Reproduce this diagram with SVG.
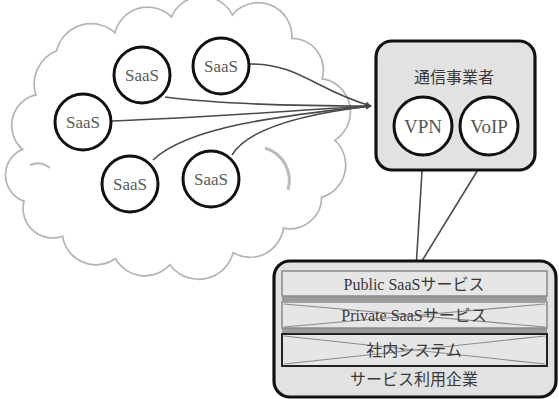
<svg xmlns="http://www.w3.org/2000/svg" width="559" height="399" viewBox="0 0 559 399">
  <defs>
    <style>
      .cloud-outer { fill: none; stroke: #b4b4b4; stroke-width: 5; stroke-linejoin: round; }
      .cloud-inner { fill: #ffffff; stroke: #ffffff; stroke-width: 1.6; stroke-linejoin: round; }
      .saas { fill: #ffffff; stroke: #111111; stroke-width: 3; }
      .saas-label { font-family: "Liberation Serif", "DejaVu Serif", serif; font-size: 17px; fill: #5a5a5a; text-anchor: middle; }
      .box { fill: #e2e2e2; stroke: #111111; stroke-width: 3.2; }
      .svc { fill: #ffffff; stroke: #111111; stroke-width: 3; }
      .svc-label { font-family: "Liberation Serif", "DejaVu Serif", serif; font-size: 19px; fill: #555555; text-anchor: middle; }
      .jp { font-family: "Liberation Serif", "Noto Sans CJK JP", serif; font-size: 16px; fill: #3a3a3a; text-anchor: middle; }
      .row { fill: #e6e6e6; stroke: #8a8a8a; stroke-width: 1.5; }
      .row-band { fill: #9a9a9a; }
      .row-x { stroke: #8c8c8c; stroke-width: 1.2; fill: none; }
      .link { fill: none; stroke: #4a4a4a; stroke-width: 1.6; }
    </style>
    <marker id="arrow" viewBox="0 0 10 10" refX="9" refY="5" markerWidth="6" markerHeight="6" orient="auto" markerUnits="userSpaceOnUse">
      <path d="M0,0 L10,5 L0,10 z" fill="#4a4a4a"/>
    </marker>
    <path id="cloud-shape" d="M26,150 A30,30 0 0 1 38,96 A34,34 0 0 1 58,52 A34,34 0 0 1 116,36 A32,32 0 0 1 172,20 A32,32 0 0 1 232,18 A32,32 0 0 1 290,40 A30,30 0 0 1 320,80 A32,32 0 0 1 332,140 A32,32 0 0 1 320,196 A30,30 0 0 1 282,226 A32,32 0 0 1 232,250 A34,34 0 0 1 170,262 A32,32 0 0 1 116,256 A32,32 0 0 1 64,234 A28,28 0 0 1 26,200 A26,26 0 0 1 26,150 Z"/>
  </defs>

  <rect width="559" height="399" fill="#ffffff"/>

  <!-- cloud drawn as a double grey outline -->
  <g id="cloud">
    <use href="#cloud-shape" class="cloud-outer"/>
    <use href="#cloud-shape" class="cloud-inner"/>
    <path d="M265,148 A34,34 0 0 1 288,190" fill="none" stroke="#bbbbbb" stroke-width="3"/>
    <path d="M30,165 A20,20 0 0 1 50,168" fill="none" stroke="#bbbbbb" stroke-width="2"/>
  </g>

  <!-- connectors -->
  <g id="connectors">
    <path class="link" d="M165,97 C220,104 300,106 371,106" marker-end="url(#arrow)"/>
    <path class="link" d="M250,64 C300,64 315,90 371,106" marker-end="url(#arrow)"/>
    <path class="link" d="M112,121 C200,118 300,110 371,106" marker-end="url(#arrow)"/>
    <path class="link" d="M153,160 C190,125 290,115 371,106" marker-end="url(#arrow)"/>
    <path class="link" d="M232,155 C250,125 320,112 371,106" marker-end="url(#arrow)"/>
    <path class="link" d="M423,155 L416,269" marker-end="url(#arrow)"/>
    <path class="link" d="M487,155 L417,269" marker-end="url(#arrow)"/>
  </g>

  <!-- SaaS nodes -->
  <g id="saas-1">
    <circle class="saas" cx="142" cy="75" r="28"/>
    <text class="saas-label" x="142" y="81">SaaS</text>
  </g>
  <g id="saas-2">
    <circle class="saas" cx="221" cy="66" r="28"/>
    <text class="saas-label" x="221" y="72">SaaS</text>
  </g>
  <g id="saas-3">
    <circle class="saas" cx="83" cy="122" r="28"/>
    <text class="saas-label" x="83" y="128">SaaS</text>
  </g>
  <g id="saas-4">
    <circle class="saas" cx="130" cy="184" r="28"/>
    <text class="saas-label" x="130" y="190">SaaS</text>
  </g>
  <g id="saas-5">
    <circle class="saas" cx="211" cy="179" r="28"/>
    <text class="saas-label" x="211" y="185">SaaS</text>
  </g>

  <!-- carrier box -->
  <g id="carrier">
    <rect class="box" x="376" y="41" width="159" height="129" rx="16"/>
    <text class="jp" x="454" y="83">通信事業者</text>
  </g>
  <g id="vpn">
    <circle class="svc" cx="423" cy="126" r="29"/>
    <text class="svc-label" x="423" y="133">VPN</text>
  </g>
  <g id="voip">
    <circle class="svc" cx="489" cy="126" r="29"/>
    <text class="svc-label" x="489" y="133">VoIP</text>
  </g>

  <!-- user enterprise box -->
  <g id="enterprise">
    <rect class="box" x="274" y="261" width="282" height="136" rx="16"/>
    <text class="jp" x="414" y="385">サービス利用企業</text>
  </g>
  <g id="public-saas">
    <rect class="row-band" x="282" y="294" width="265" height="7"/>
    <rect class="row" x="282" y="271" width="265" height="25"/>
    <text class="jp" x="414" y="290">Public SaaSサービス</text>
  </g>
  <g id="private-saas">
    <rect class="row-band" x="282" y="326" width="265" height="7"/>
    <rect class="row" x="282" y="302" width="265" height="26"/>
    <path class="row-x" d="M284,304 L545,327 M284,327 L545,304"/>
    <text class="jp" x="414" y="321" fill="#555555">Private SaaSサービス</text>
  </g>
  <g id="internal-system">
    <rect x="282" y="334" width="265" height="32" fill="#e6e6e6" stroke="#222222" stroke-width="2"/>
    <path class="row-x" d="M284,336 L545,364 M284,364 L545,336"/>
    <text class="jp" x="414" y="356" fill="#555555">社内システム</text>
  </g>
</svg>
